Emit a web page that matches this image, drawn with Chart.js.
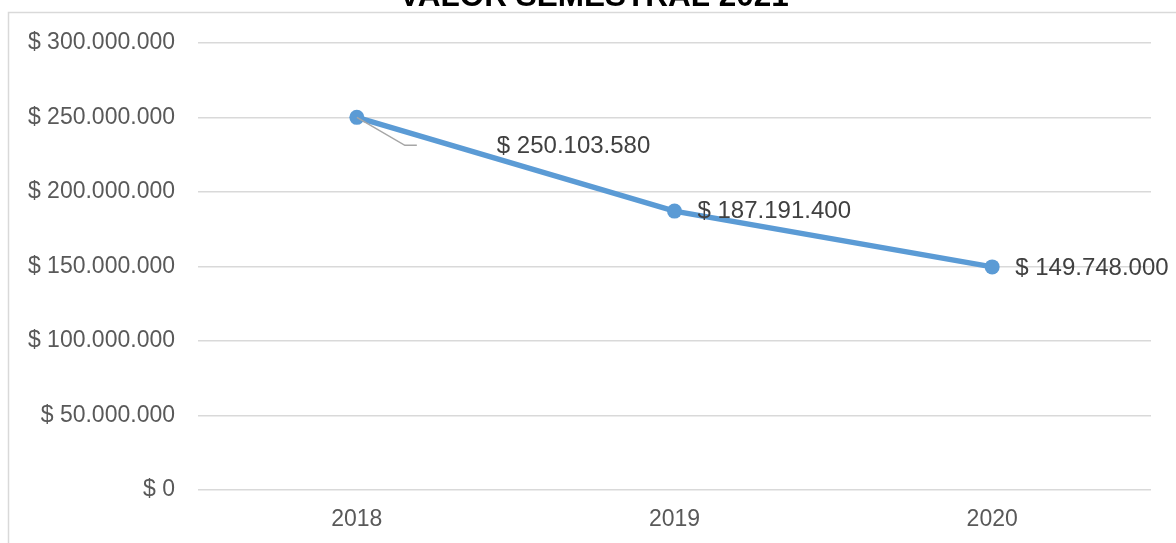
<!DOCTYPE html>
<html>
<head>
<meta charset="utf-8">
<script src="https://cdn.jsdelivr.net/npm/chart.js@4/dist/chart.umd.min.js"></script>
<style>
html,body{margin:0;padding:0;background:#fff;}
#c{display:block;}
</style>
</head>
<body>
<canvas id="c" width="1176" height="543"></canvas>
<script>
const categories = ['2018', '2019', '2020'];
const values = [250103580, 187191400, 149748000];
const dataLabels = ['$ 250.103.580', '$ 187.191.400', '$ 149.748.000'];
const yTickStep = 50000000;
const yMax = 300000000;
const titleText = 'VALOR SEMESTRAL 2021';

function fmtMoney(v) {
  const s = Math.round(v).toString().replace(/\B(?=(\d{3})+(?!\d))/g, '.');
  return '$ ' + s;
}

const FONT = '"Liberation Sans", Arial, sans-serif';

const framePlugin = {
  id: 'frame',
  beforeDraw(chart) {
    const ctx = chart.ctx;
    ctx.save();
    ctx.fillStyle = '#fff';
    ctx.fillRect(0, 0, chart.width, chart.height);
    ctx.strokeStyle = '#d9d9d9';
    ctx.lineWidth = 1.5;
    ctx.beginPath();
    ctx.moveTo(8.5, chart.height);
    ctx.lineTo(8.5, 12.5);
    ctx.lineTo(chart.width, 12.5);
    ctx.stroke();
    ctx.fillStyle = '#000';
    ctx.font = 'bold 31.5px ' + FONT;
    ctx.textAlign = 'center';
    ctx.textBaseline = 'alphabetic';
    ctx.fillText(titleText, 594, 6);
    ctx.restore();
  }
};

const labelPlugin = {
  id: 'ptLabels',
  afterDatasetsDraw(chart, args, opts) {
    const ctx = chart.ctx;
    const meta = chart.getDatasetMeta(0);
    ctx.save();
    ctx.font = '24px ' + FONT;
    ctx.fillStyle = '#404040';
    ctx.textAlign = 'left';
    ctx.textBaseline = 'middle';
    meta.data.forEach((pt, i) => {
      const off = opts.offsets[i];
      const lx = pt.x + off[0];
      const ly = pt.y + off[1];
      if (off[2]) {
        ctx.strokeStyle = '#a6a6a6';
        ctx.lineWidth = 1.5;
        ctx.beginPath();
        ctx.moveTo(pt.x, pt.y);
        ctx.lineTo(pt.x + 48, pt.y + 28);
        ctx.lineTo(pt.x + 60, pt.y + 28);
        ctx.stroke();
      }
      ctx.fillText(dataLabels[i], lx, ly);
    });
    ctx.restore();
  }
};

new Chart(document.getElementById('c'), {
  type: 'line',
  data: {
    labels: categories,
    datasets: [{
      data: values,
      borderColor: '#5B9BD5',
      backgroundColor: '#5B9BD5',
      borderWidth: 5.5,
      pointRadius: 7.5,
      pointHoverRadius: 7.5,
      pointBorderWidth: 0,
      tension: 0,
      clip: false
    }]
  },
  options: {
    responsive: false,
    animation: false,
    events: [],
    layout: { padding: { top: 43, right: 25, left: 0, bottom: 0 } },
    plugins: {
      legend: { display: false },
      tooltip: { enabled: false },
      title: { display: false },
      ptLabels: { offsets: [[140, 29, true], [23, 0, false], [23, 1, false]] }
    },
    scales: {
      x: {
        offset: true,
        grid: { display: false, drawTicks: false },
        border: { display: false },
        ticks: { color: '#595959', font: { family: FONT, size: 23 }, padding: 16 },
        afterFit(scale) { scale.height = 53; }
      },
      y: {
        min: 0,
        max: yMax,
        grid: { color: '#d9d9d9', lineWidth: 1.5, drawTicks: false },
        border: { display: false },
        ticks: {
          stepSize: yTickStep,
          color: '#595959',
          font: { family: FONT, size: 23 },
          padding: 23,
          callback: (v) => fmtMoney(v)
        },
        afterFit(scale) { scale.width = 198; }
      }
    }
  },
  plugins: [framePlugin, labelPlugin]
});
</script>
</body>
</html>
